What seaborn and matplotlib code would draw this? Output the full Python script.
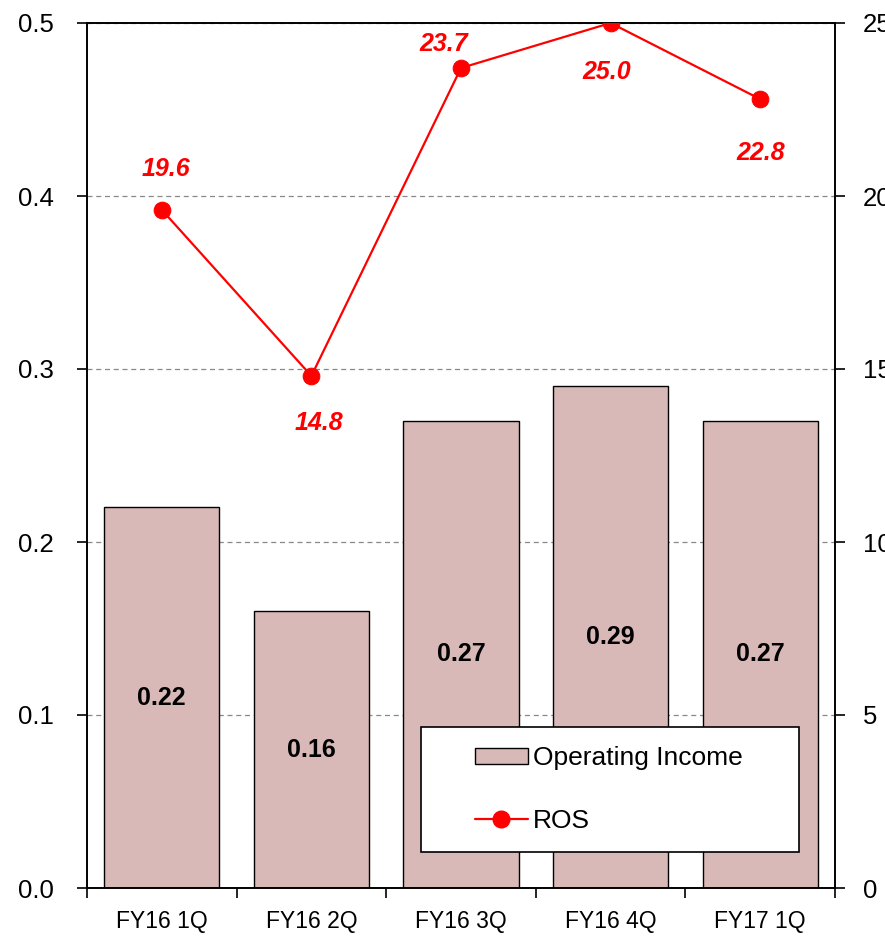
import matplotlib
matplotlib.use("Agg")
import matplotlib.pyplot as plt
from matplotlib.patches import Rectangle, Patch
from matplotlib.lines import Line2D
import seaborn as sns
import pandas as pd

# Quarterly results
quarters = ["FY16 1Q", "FY16 2Q", "FY16 3Q", "FY16 4Q", "FY17 1Q"]
operating_income = [0.22, 0.16, 0.27, 0.29, 0.27]
ros = [19.6, 14.8, 23.7, 25.0, 22.8]
left_ticks = [0.0, 0.1, 0.2, 0.3, 0.4, 0.5]
right_ticks = [0, 5, 10, 15, 20, 25]

# pixel offsets of the ROS value labels from their points
ros_label_offsets = [(4, 41), (8, -47), (-17, 24), (-4, -49), (1, -54)]

sns.set_theme(style="white")
plt.rcParams["font.family"] = ["Liberation Sans", "DejaVu Sans"]
plt.rcParams["text.color"] = "black"
plt.rcParams["xtick.color"] = "black"
plt.rcParams["ytick.color"] = "black"
plt.rcParams["axes.labelcolor"] = "black"

bar_color = "#D9B8B8"
ros_color = "#FF0000"

df = pd.DataFrame({"quarter": quarters, "income": operating_income, "ros": ros})

fig = plt.figure(figsize=(8.85, 9.42), dpi=100)
ax = fig.add_axes([87 / 885, 1 - 888 / 942, (835 - 87) / 885, (888 - 23) / 942])

sns.barplot(data=df, x="quarter", y="income", ax=ax, color=bar_color,
            width=0.77, edgecolor="black", linewidth=1.0, saturation=1, zorder=2)

ax.set_xlim(-0.5, len(quarters) - 0.5)
ax.set_ylim(0, 0.5)
ax.set_yticks(left_ticks)
ax.set_yticklabels([f"{t:.1f}" for t in left_ticks], fontsize=18.5)
ax.set_xlabel("")
ax.set_ylabel("")
ax.set_xticks(range(len(quarters)))
ax.set_xticklabels(quarters, fontsize=16.5)
ax.set_xticks([i - 0.5 for i in range(len(quarters) + 1)], minor=True)
ax.tick_params(axis="x", which="major", length=0, pad=16, labelcolor="black")
ax.tick_params(axis="x", which="minor", length=7, width=1.2, direction="out",
               bottom=True, color="black")
ax.tick_params(axis="y", length=7, width=1.2, direction="out", left=True,
               color="black", pad=17, labelcolor="black")
ax.grid(axis="y", color="#888888", linestyle=(0, (4, 3)), linewidth=0.9, zorder=0)
ax.set_axisbelow(True)
for s in ax.spines.values():
    s.set_color("black")
    s.set_linewidth(1.2)

# bar value labels
for i, v in enumerate(operating_income):
    ax.text(i, v / 2, f"{v:.2f}", ha="center", va="center", fontsize=18,
            fontweight="bold", color="black", zorder=5)

ax2 = ax.twinx()
sns.lineplot(x=list(range(len(quarters))), y=ros, ax=ax2, color=ros_color,
             linewidth=1.6, marker="o", markersize=12, markeredgecolor=ros_color,
             zorder=4, legend=False)
ax2.set_ylim(0, 25)
ax2.set_xlim(-0.5, len(quarters) - 0.5)
ax2.set_yticks(right_ticks)
ax2.set_yticklabels([str(t) for t in right_ticks], fontsize=18.5)
ax2.tick_params(axis="y", length=7, width=1.2, direction="out", right=True,
                color="black", pad=13, labelcolor="black")
ax2.grid(False)
for s in ax2.spines.values():
    s.set_color("black")
    s.set_linewidth(1.2)

for i, v in enumerate(ros):
    dx, dy = ros_label_offsets[i]
    ax2.annotate(f"{v:.1f}", (i, v), xytext=(dx, dy), textcoords="offset pixels",
                 ha="center", va="center", fontsize=18, fontweight="bold",
                 fontstyle="italic", color=ros_color, zorder=6)

# legend box
box = Rectangle((421 / 885, 1 - 852 / 942), 378 / 885, 125 / 942,
                transform=fig.transFigure, facecolor="white", edgecolor="black",
                linewidth=1.2, zorder=7)
ax2.add_patch(box)
box.set_clip_on(False)
handles = [
    Patch(facecolor=bar_color, edgecolor="black", linewidth=1.0),
    Line2D([0], [0], color=ros_color, linewidth=1.6, marker="o", markersize=12),
]
leg = ax2.legend(handles, ["Operating Income", "ROS"], loc="center",
                 bbox_to_anchor=(609 / 885, 1 - 789.5 / 942),
                 bbox_transform=fig.transFigure, frameon=False, fontsize=19,
                 handlelength=2.0, handleheight=0.6, handletextpad=0.2,
                 labelspacing=1.45)
for t in leg.get_texts():
    t.set_color("black")
leg.set_zorder(8)

fig.savefig("out.png", dpi=100)
